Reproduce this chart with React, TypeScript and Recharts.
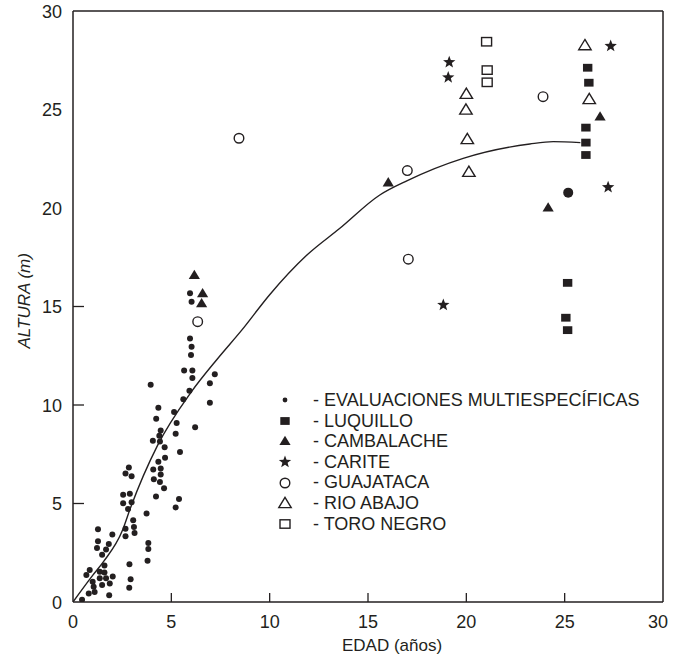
import React from "react"
import { ScatterChart, Scatter, XAxis, YAxis, ReferenceLine } from "recharts"

// values: [edad (años), altura (m)]
const multiespecificas = [
  [0.46, 0.12], [0.8, 0.43], [1.1, 0.51], [0.68, 1.37], [0.85, 1.63], [1.0, 1.03], [1.05, 0.77],
  [1.36, 1.2], [1.36, 1.54], [1.48, 0.86], [1.6, 1.85], [1.6, 1.5], [1.68, 1.2], [1.84, 0.34],
  [1.87, 0.94], [2.02, 1.29], [1.22, 2.74], [1.27, 3.09], [1.27, 3.69], [1.48, 2.4], [1.68, 2.66],
  [1.82, 2.95], [2.0, 3.43], [2.67, 3.72], [2.67, 3.34], [2.87, 1.92], [2.93, 1.15], [2.86, 0.72],
  [2.55, 5.44], [2.55, 5.01], [2.89, 5.49], [2.98, 5.06], [2.8, 4.72], [2.67, 6.52], [2.84, 6.83],
  [2.98, 6.38], [3.06, 4.15], [3.1, 3.81], [3.13, 3.5], [3.74, 4.49], [3.83, 3.0], [3.83, 2.69],
  [3.79, 2.09], [3.95, 11.03], [4.06, 8.18], [4.08, 6.72], [4.11, 6.23], [4.22, 5.35], [4.23, 9.3],
  [4.34, 9.86], [4.39, 8.44], [4.42, 8.15], [4.46, 8.71], [4.34, 7.12], [4.46, 6.78], [4.46, 6.47],
  [4.42, 6.09], [4.66, 7.86], [4.68, 7.32], [4.63, 5.78], [5.14, 9.64], [5.27, 9.09], [5.22, 8.54],
  [5.44, 7.62], [5.22, 4.8], [5.39, 5.23], [5.61, 10.29], [5.65, 11.75], [6.07, 11.75], [6.07, 11.37],
  [5.92, 10.72], [6.21, 8.87], [6.96, 11.1], [6.96, 10.12], [7.21, 11.56], [5.95, 15.67], [6.03, 15.24],
  [5.95, 13.38], [6.03, 12.96], [6.0, 12.54],
]
const puntoGrande = [[25.18, 20.78]]
const luquillo = [
  [26.17, 27.12], [26.23, 26.36], [26.08, 24.08], [26.08, 23.32], [26.08, 22.69],
  [25.15, 16.2], [25.06, 14.43], [25.15, 13.8],
]
const cambalache = [[6.17, 16.6], [6.59, 15.67], [6.54, 15.16], [16.03, 21.3], [24.16, 20.02], [26.8, 24.64]]
const carite = [[19.13, 27.4], [19.08, 26.63], [18.83, 15.08], [27.34, 28.22], [27.21, 21.05]]
const guajataca = [[6.34, 14.23], [8.44, 23.54], [17.0, 21.9], [17.05, 17.4], [23.9, 25.65]]
const rioAbajo = [[20.0, 25.8], [19.98, 25.0], [20.05, 23.5], [20.13, 21.84], [26.03, 28.27], [26.25, 25.53]]
const toroNegro = [[21.03, 28.44], [21.06, 27.0], [21.06, 26.38]]

// fitted curve
const curvaX = [0, 1, 1.56, 2.5, 2.93, 4.3, 5.99, 7.35, 8.58, 10, 11.88, 13.57, 15.6, 17.0, 19.84, 23.23, 24.42, 25.8]
const curvaY = [0, 1.35, 2.06, 3.6, 4.8, 7.95, 10.63, 12.35, 13.8, 15.6, 17.6, 18.97, 20.66, 21.39, 22.52, 23.25, 23.37, 23.32]

const ticks = [0, 5, 10, 15, 20, 25, 30]
const yTicksWithMark = [5, 10, 15]

const legendItems = [
  { kind: "dot", label: "- EVALUACIONES MULTIESPECÍFICAS" },
  { kind: "square", label: "- LUQUILLO" },
  { kind: "tri", label: "- CAMBALACHE" },
  { kind: "star", label: "- CARITE" },
  { kind: "ocircle", label: "- GUAJATACA" },
  { kind: "otri", label: "- RIO ABAJO" },
  { kind: "osquare", label: "- TORO NEGRO" },
]

const ink = "#231f20"
const font = "'Liberation Sans', Arial, sans-serif"

const toPoints = (arr: number[][]) => arr.map(([x, y]) => ({ x, y }))
const curva = curvaX.map((x, i) => ({ x, y: curvaY[i] }))

function starPath(cx: number, cy: number, r: number) {
  const pts: string[] = []
  for (let i = 0; i < 10; i++) {
    const rad = i % 2 === 0 ? r : r * 0.42
    const a = -Math.PI / 2 + (i * Math.PI) / 5
    pts.push(`${cx + rad * Math.cos(a)},${cy + rad * Math.sin(a)}`)
  }
  return pts.join(" ")
}

function Marker({ kind, cx, cy, s = 1 }: { kind: string; cx: number; cy: number; s?: number }) {
  switch (kind) {
    case "dot":
      return <circle cx={cx} cy={cy} r={3 * s} fill={ink} />
    case "bigdot":
      return <circle cx={cx} cy={cy} r={5} fill={ink} />
    case "square":
      return <rect x={cx - 4.7 * s} y={cy - 3.9 * s} width={9.4 * s} height={7.8 * s} fill={ink} />
    case "tri":
      return (
        <polygon
          points={`${cx},${cy - 5.3 * s} ${cx + 5.6 * s},${cy + 4 * s} ${cx - 5.6 * s},${cy + 4 * s}`}
          fill={ink}
        />
      )
    case "star":
      return <polygon points={starPath(cx, cy, 6.5 * s)} fill={ink} />
    case "ocircle":
      return <circle cx={cx} cy={cy} r={4.8 * s} fill="#fff" stroke={ink} strokeWidth={1.4} />
    case "otri":
      return (
        <polygon
          points={`${cx},${cy - 5.6 * s} ${cx + 6.2 * s},${cy + 4.6 * s} ${cx - 6.2 * s},${cy + 4.6 * s}`}
          fill="#fff"
          stroke={ink}
          strokeWidth={1.4}
        />
      )
    case "osquare":
      return (
        <rect x={cx - 5 * s} y={cy - 4.2 * s} width={10 * s} height={8.4 * s} fill="#fff" stroke={ink} strokeWidth={1.4} />
      )
    default:
      return <g />
  }
}

const shapeOf = (kind: string) => (p: any) => <Marker kind={kind} cx={p.cx} cy={p.cy} />

function XTick(props: any) {
  const { x, y, payload } = props
  return (
    <g>
      {payload.value > 0 && payload.value < 30 && <line x1={x} x2={x} y1={y} y2={y - 9} stroke={ink} strokeWidth={1.3} />}
      <text x={payload.value === 30 ? x - 5 : x} y={y + 26} textAnchor="middle" fontSize={18} fill={ink} fontFamily={font}>
        {payload.value}
      </text>
    </g>
  )
}

function YTick(props: any) {
  const { x, y, payload } = props
  return (
    <g>
      {yTicksWithMark.includes(payload.value) && (
        <line x1={x} x2={x + 11} y1={y} y2={y} stroke={ink} strokeWidth={1.3} />
      )}
      <text x={x - 11} y={y + 6.5} textAnchor="end" fontSize={18} fill={ink} fontFamily={font}>
        {payload.value}
      </text>
    </g>
  )
}

function LegendBox() {
  return (
    <div
      style={{ position: "absolute", left: 275, top: 390, fontFamily: font, fontSize: 18, color: ink, lineHeight: "20.6px" }}
    >
      {legendItems.map((it) => (
        <div key={it.label} style={{ display: "flex", alignItems: "center", height: 20.6 }}>
          <svg width={20} height={16} style={{ marginRight: 18 }}>
            <Marker kind={it.kind} cx={10} cy={8} s={it.kind === "dot" ? 0.8 : 1} />
          </svg>
          <span>{it.label}</span>
        </div>
      ))}
    </div>
  )
}

export default function App() {
  return (
    <div style={{ position: "absolute", left: 0, top: 0, width: 680, height: 662, background: "#fff" }}>
      <ScatterChart width={680} height={662} margin={{ top: 11, right: 17, bottom: 0, left: 0 }}>
        <XAxis
          type="number"
          dataKey="x"
          domain={[0, 30]}
          ticks={ticks}
          height={60}
          tickSize={0}
          tickMargin={0}
          tickLine={false}
          axisLine={{ stroke: ink, strokeWidth: 1.5 }}
          tick={<XTick />}
          allowDataOverflow
          label={{ value: "EDAD (años)", position: "insideBottom", offset: 11, fontSize: 17, fill: ink, fontFamily: font, dx: 24 }}
        />
        <YAxis
          type="number"
          dataKey="y"
          domain={[0, 30]}
          ticks={ticks}
          width={73}
          tickSize={0}
          tickMargin={0}
          tickLine={false}
          axisLine={{ stroke: ink, strokeWidth: 1.5 }}
          tick={<YTick />}
          allowDataOverflow
          label={{
            value: "ALTURA (m)",
            angle: -90,
            position: "insideLeft",
            offset: 24,
            fontSize: 17,
            fill: ink,
            fontFamily: font,
            fontStyle: "italic",
            dy: 42,
          }}
        />
        <ReferenceLine y={30} stroke={ink} strokeWidth={1.5} />
        <ReferenceLine x={30} stroke={ink} strokeWidth={1.5} />
        <Scatter
          data={curva}
          line={{ stroke: ink, strokeWidth: 1.4 }}
          lineJointType="monotoneX"
          shape={() => <g />}
          isAnimationActive={false}
        />
        <Scatter data={toPoints(multiespecificas)} shape={shapeOf("dot")} isAnimationActive={false} />
        <Scatter data={toPoints(puntoGrande)} shape={shapeOf("bigdot")} isAnimationActive={false} />
        <Scatter data={toPoints(luquillo)} shape={shapeOf("square")} isAnimationActive={false} />
        <Scatter data={toPoints(cambalache)} shape={shapeOf("tri")} isAnimationActive={false} />
        <Scatter data={toPoints(carite)} shape={shapeOf("star")} isAnimationActive={false} />
        <Scatter data={toPoints(guajataca)} shape={shapeOf("ocircle")} isAnimationActive={false} />
        <Scatter data={toPoints(rioAbajo)} shape={shapeOf("otri")} isAnimationActive={false} />
        <Scatter data={toPoints(toroNegro)} shape={shapeOf("osquare")} isAnimationActive={false} />
      </ScatterChart>
      <LegendBox />
    </div>
  )
}
